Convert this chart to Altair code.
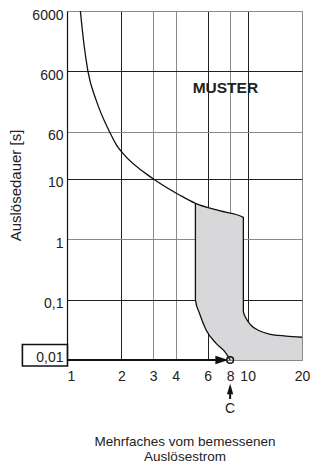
import altair as alt
import pandas as pd

# ---- data ----
# main tripping curve: from the top, along the upper edge of the band, down the right edge
main_x = [1.186, 1.237, 1.306, 1.45, 1.72, 1.88, 2.04, 3.0, 4.19, 5.14, 6.98, 9.47, 9.47, 9.8, 10.4, 11.6, 13.2, 16.3, 20]
main_y = [6000, 1840, 600, 201, 60, 36.2, 26.4, 10, 5.4, 3.93, 2.96, 2.3, 0.063, 0.049, 0.038, 0.0305, 0.0269, 0.0249, 0.0238]
# left boundary of the shaded band
left_x = [5.14, 5.14, 5.41, 5.89, 6.69, 7.6, 8]
left_y = [3.93, 0.098, 0.0593, 0.0314, 0.0189, 0.0129, 0.01]

x_ticks = [1, 2, 3, 4, 6, 8, 10, 20]
y_ticks = [0.01, 0.1, 1, 10, 60, 600, 6000]
y_tick_labels = ["0,01", "0,1", "1", "10", "60", "600", "6000"]
x_dark_grid = [2, 6, 10]
y_dark_grid = [0.1, 10, 600]

point_c = 8          # multiple of rated current, point C
t_min = 0.01
arrow_from = 1
arrow_to = 6.8
arrow_head_x = 7.2
muster_x = 7.53
muster_y = 313

x_title = ["Mehrfaches vom bemessenen", "Auslösestrom"]
y_title = "Auslösedauer [s]"

FONT = "Liberation Sans"

# ---- tables ----
main_df = pd.DataFrame({"x": main_x, "y": main_y, "i": range(len(main_x))})
left_df = pd.DataFrame({"x": left_x, "y": left_y, "i": range(len(left_x))})
start = main_x.index(left_x[0])
poly_x = main_x[start:] + [main_x[-1]] + left_x[::-1]
poly_y = main_y[start:] + [t_min] + left_y[::-1]
poly_df = pd.DataFrame({"x": poly_x, "y": poly_y, "i": range(len(poly_x))})

label_map = "{" + ",".join(f"'{v}':'{l}'" for v, l in zip(y_ticks, y_tick_labels)) + "}"

xscale = alt.Scale(type="log", domain=[1, 20], nice=False)
yscale = alt.Scale(type="log", domain=[0.01, 6000], nice=False)

def any_test(vals):
    return " || ".join(f"datum.value == {v}" for v in vals)

x_axis = alt.Axis(
    values=x_ticks, grid=True, ticks=False, title=x_title,
    labelFontSize=14, labelPadding=9, labelColor="#222", labelFont=FONT,
    labelAlign={"condition": {"test": "datum.value == 1", "value": "left"}, "value": "center"},
    domainColor="#888", domainWidth=1,
    gridColor={"condition": {"test": any_test(x_dark_grid), "value": "#222"}, "value": "#8a8a8a"},
    gridWidth=1,
    titleFontSize=13.5, titleFontWeight="normal", titleFont=FONT, titleColor="#222",
    titleBaseline="top", titleY=74, titleLineHeight=15,
)
y_axis = alt.Axis(
    values=y_ticks, grid=True, ticks=False, title=y_title,
    labelExpr=label_map + "[toString(datum.value)]",
    labelFontSize=14, labelPadding=4, labelColor="#222", labelFont=FONT,
    labelBaseline="middle",
    labelOffset={"condition": {"test": "datum.value == 0.01", "value": -3}, "value": 4},
    domainColor="#111", domainWidth=1.2,
    gridColor={"condition": {"test": any_test(y_dark_grid), "value": "#222"}, "value": "#8a8a8a"},
    gridWidth=1,
    titleFontSize=15, titleFontWeight="normal", titleFont=FONT, titleColor="#222",
    titleAngle=-90, titleAlign="center", titleBaseline="middle", titleX=-52, titleY=174,
)

def X():
    return alt.X("x:Q", scale=xscale, axis=x_axis)

def Y():
    return alt.Y("y:Q", scale=yscale, axis=y_axis)

band = alt.Chart(poly_df).mark_line(fill="#d8d8db", stroke="#d8d8db", strokeWidth=0).encode(
    x=X(), y=Y(), order="i:Q")

main_line = alt.Chart(main_df).mark_line(color="#111", strokeWidth=1.3, interpolate="monotone").encode(
    x=X(), y=Y(), order="i:Q")
left_line = alt.Chart(left_df).mark_line(color="#111", strokeWidth=1.3, interpolate="monotone").encode(
    x=X(), y=Y(), order="i:Q")

arrow_df = pd.DataFrame({"x": [arrow_from], "x2": [arrow_to], "y": [t_min]})
arrow = alt.Chart(arrow_df).mark_rule(color="#111", strokeWidth=2).encode(
    x=X(), x2="x2:Q", y=Y())
head_df = pd.DataFrame({"x": [arrow_head_x], "y": [t_min]})
head = alt.Chart(head_df).mark_point(
    shape="M-1,-0.65L1,0L-1,0.65Z", filled=True, color="#111", size=169, opacity=1
).encode(x=X(), y=Y())

c_df = pd.DataFrame({"x": [point_c], "y": [t_min]})
circle = alt.Chart(c_df).mark_point(
    shape="circle", filled=False, color="#111", strokeWidth=1.5, size=45, opacity=1
).encode(x=X(), y=Y())

c_rule = alt.Chart(c_df).mark_rule(color="#111", strokeWidth=2).encode(
    x=X(), y=alt.value(376), y2=alt.value(388))
c_head = alt.Chart(c_df).mark_point(
    shape="M0,-1L0.6,1L-0.6,1Z", filled=True, color="#111", size=110, opacity=1
).encode(x=X(), y=alt.value(378))
c_text = alt.Chart(pd.DataFrame({"x": [point_c], "t": ["C"]})).mark_text(
    fontSize=14, font=FONT, color="#222", baseline="middle"
).encode(x=X(), y=alt.value(397.5), text="t:N")

box = alt.Chart(c_df).mark_rect(
    fill="white", fillOpacity=0, stroke="#111", strokeWidth=1.6
).encode(x=alt.value(-44.6), x2=alt.value(0.5), y=alt.value(333.5), y2=alt.value(355))

muster = alt.Chart(pd.DataFrame({"x": [muster_x], "y": [muster_y], "t": ["MUSTER"]})).mark_text(
    fontSize=15.5, font=FONT, fontWeight="bold", color="#222", baseline="middle"
).encode(x=X(), y=Y(), text="t:N")

chart = alt.layer(
    band, main_line, left_line, arrow, head, circle, c_rule, c_head, c_text, box, muster
).properties(
    width=235, height=349,
    autosize=alt.AutoSizeParams(type="none"),
    padding={"left": 59, "top": 3, "right": 13, "bottom": 106},
).configure_view(stroke=None).configure(background="white")

chart.save("out.html", embed_options={"renderer": "svg", "actions": False})
